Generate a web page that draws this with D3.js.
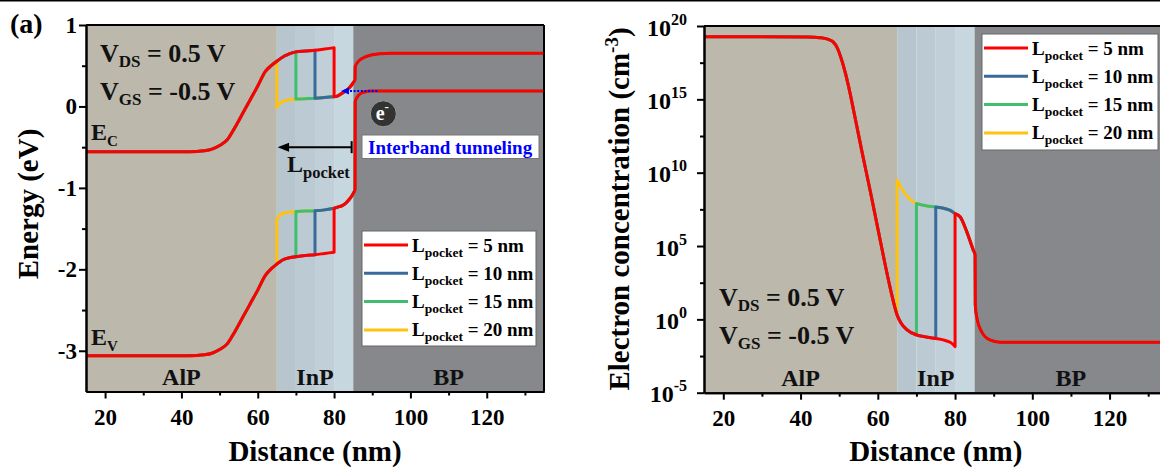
<!DOCTYPE html>
<html>
<head>
<meta charset="utf-8">
<script src="https://cdn.jsdelivr.net/npm/d3@7"></script>
<style>
  html, body { margin: 0; padding: 0; background: #fff; }
  svg { display: block; font-family: "Liberation Serif", "Times New Roman", serif; font-weight: bold; }
</style>
</head>
<body>
<svg id="chart" width="1160" height="469"></svg>
<script>
// ---------------- data ----------------
const distanceTicks = [20, 40, 60, 80, 100, 120];
const distanceMinorTicks = [30, 50, 70, 90, 110, 130];
const energyTicks = [1, 0, -1, -2, -3];
const energyMinorTicks = [0.5, -0.5, -1.5, -2.5];
const concentrationTicks = [1e-5, 1, 1e5, 1e10, 1e15, 1e20];
const concentrationMinorTicks = [3.16e-3, 316, 3.16e7, 3.16e12, 3.16e17];

const layers = [
  { name: "AlP", from: 15, to: 65 },
  { name: "InP", from: 65, to: 85 },
  { name: "BP",  from: 85, to: 135 }
];
const inpSlices = [65, 70, 75, 80, 85];

const pocketLengths = [5, 10, 15, 20];   // nm, legend order
const pocketEnd = 80;                    // pocket region ends at the last InP slice

// Conduction band edge (eV): source side without pocket, pocket band, drain side
const ecBase = [[15,-0.555],[30,-0.555],[40,-0.555],[44,-0.552],[46,-0.545],[48,-0.525],[50,-0.48],
  [52,-0.41],[54,-0.26],[56,-0.09],[58,0.08],[60,0.25],[62,0.43],[63.5,0.5],[65,0.555],[66,0.59],
  [67,0.62],[68,0.64],[70,0.67],[72.5,0.68],[75,0.69],[77.5,0.705],[80,0.72]];
const ecPocket = [[65,-0.01],[65.7,0.03],[66.5,0.06],[68,0.08],[70,0.09],[72.5,0.095],[75,0.10],[77.5,0.11],[80,0.12]];
const ecDrain = [[80,0.12],[81,0.13],[82,0.16],[83,0.19],[84,0.23],[85,0.29],[85.5,0.33],[85.55,0.49],
  [86.5,0.56],[88,0.605],[90,0.635],[92,0.648],[95,0.653],[135,0.653]];

// Valence band edge (eV)
const evBase = [[15,-3.06],[30,-3.06],[40,-3.06],[44,-3.057],[46,-3.05],[48,-3.03],[50,-2.985],
  [52,-2.915],[54,-2.765],[56,-2.595],[58,-2.425],[60,-2.255],[62,-2.075],[63.5,-1.995],[65,-1.935],
  [66,-1.9],[67,-1.875],[68,-1.86],[70,-1.845],[72.5,-1.83],[75,-1.82],[77.5,-1.805],[80,-1.79]];
const evPocket = [[65,-1.39],[65.7,-1.34],[66.5,-1.315],[68,-1.3],[70,-1.29],[72.5,-1.285],[75,-1.28],[77.5,-1.27],[80,-1.25]];
const evDrain = [[80,-1.25],[81,-1.235],[82,-1.22],[83,-1.19],[84,-1.14],[85,-1.07],[85.5,-1.02],
  [85.55,0.06],[86,0.11],[86.8,0.155],[88,0.178],[89.5,0.19],[135,0.19]];

// Electron concentration (cm^-3)
const nBase = [[15,1.86e19],[30,1.86e19],[42,1.8e19],[45,1.6e19],[47,1.26e19],[48.5,7.9e18],[49.5,3.2e18],
  [50.5,6.3e17],[51.5,7.9e16],[52.5,6.3e15],[54,7.9e13],[56,2e11],[58,6.3e8],[60,1.6e6],[62,4e3],
  [63.5,63],[65,2.0],[66,0.56],[67.5,0.2],[70,0.087],[72.5,0.063],[75,0.05],[77.5,0.036],[79,0.025],[80,0.014]];
const nPocket = [[65,3.2e9],[65.6,1.6e9],[66.5,6.3e8],[68,1.8e8],[70,8e7],[72.5,5.6e7],[75,4.5e7],
  [77.5,3.5e7],[79,2.5e7],[80,1.6e7]];
const nDrain = [[80,1.6e7],[81.3,1e7],[83,1e6],[84.7,5.4e4],[85.2,2.5e4],[85.25,9.5],[85.6,1.5],
  [86.9,0.14],[89,0.04],[91.6,0.028],[135,0.028]];

// ---------------- styles ----------------
const seriesColor = { 5: "#ff0000", 10: "#386b9c", 15: "#3fbf6b", 20: "#ffc20e" };
const layerFill = { AlP: "#bcb8ab", BP: "#87888c" };
const inpFills = ["#b7c6ce", "#bccbd3", "#c1d0d8", "#c7d7e0"];

const svg = d3.select("#chart");
svg.append("rect").attr("x", 0).attr("y", 0).attr("width", 1160).attr("height", 1.5).attr("fill", "#000");

// Splice a profile for a given pocket length: base up to the pocket start, pocket band, then drain
function pieces(base, pocket, drain, L) {
  const start = 85 - L;
  return [
    base.filter(d => d[0] <= start),
    pocket.filter(d => d[0] >= start),
    drain.filter(d => d[0] >= pocketEnd)
  ];
}

// Join the pieces into one continuous path (vertical steps between them)
function pathFor(line, parts) {
  const fx = line.x(), fy = line.y();
  return parts.map((p, i) => {
    if (p.length < 2) return `L${fx(p[0])},${fy(p[0])}`;
    const s = line(p);
    return i === 0 ? s : s.replace(/^M/, "L");
  }).join("");
}

function drawPanel(x, y, clipId) {
  const left = x.range()[0], right = x.range()[1];
  const top = y.range()[1], bottom = y.range()[0];
  const g = svg.append("g");
  g.append("clipPath").attr("id", clipId).append("rect")
    .attr("x", left).attr("y", top).attr("width", right - left).attr("height", bottom - top);

  const bg = g.append("g").attr("clip-path", `url(#${clipId})`);
  layers.filter(l => l.name !== "InP").forEach(l => {
    bg.append("rect").attr("x", x(l.from)).attr("y", top)
      .attr("width", x(l.to) - x(l.from)).attr("height", bottom - top).attr("fill", layerFill[l.name]);
  });
  d3.pairs(inpSlices).forEach(([a, b], i) => {
    bg.append("rect").attr("x", x(a)).attr("y", top)
      .attr("width", x(b) - x(a)).attr("height", bottom - top).attr("fill", inpFills[i]);
  });
  layers.forEach(l => {
    bg.append("text").attr("x", x((l.from + l.to) / 2)).attr("y", bottom - 6.5)
      .attr("text-anchor", "middle").attr("font-size", 24).attr("fill", "#111").text(l.name);
  });
  return { g, left, right, top, bottom };
}

function drawCurves(p, x, y, sets, clipId) {
  const line = d3.line().x(d => x(d[0])).y(d => y(d[1])).curve(d3.curveMonotoneX);
  const lg = p.g.append("g").attr("clip-path", `url(#${clipId})`);
  sets.forEach(([base, pocket, drain]) => {
    pocketLengths.slice().reverse().forEach(L => {
      lg.append("path")
        .attr("d", pathFor(line, pieces(base, pocket, drain, L)))
        .attr("fill", "none").attr("stroke", seriesColor[L])
        .attr("stroke-width", 3).attr("stroke-linejoin", "round").attr("stroke-linecap", "round");
    });
  });
}

function styleAxis(sel) {
  sel.attr("font-family", null).attr("font-size", null);
  sel.selectAll(".domain").attr("stroke", "#000").attr("stroke-width", 2);
  sel.selectAll(".tick line").attr("stroke", "#000").attr("stroke-width", 2);
  sel.selectAll(".tick text").attr("fill", "#000").attr("font-size", 23);
}

function drawFrameAndX(p, x) {
  // top and right border
  p.g.append("line").attr("x1", p.left).attr("x2", p.right).attr("y1", p.top).attr("y2", p.top)
    .attr("stroke", "#000").attr("stroke-width", 2);
  p.g.append("line").attr("x1", p.right).attr("x2", p.right).attr("y1", p.top).attr("y2", p.bottom)
    .attr("stroke", "#000").attr("stroke-width", 2);
  p.g.append("g").attr("transform", `translate(0,${p.bottom})`)
    .call(d3.axisBottom(x).tickValues(distanceMinorTicks).tickSize(4).tickSizeOuter(0).tickFormat(""))
    .call(styleAxis);
  const ax = p.g.append("g").attr("transform", `translate(0,${p.bottom})`)
    .call(d3.axisBottom(x).tickValues(distanceTicks).tickSize(7).tickSizeOuter(0).tickFormat(d3.format("d")))
    .call(styleAxis);
  ax.selectAll(".tick text").attr("y", 33).attr("dy", null);
  p.g.append("text").attr("x", (p.left + p.right) / 2).attr("y", 461)
    .attr("text-anchor", "middle").attr("font-size", 29).text("Distance (nm)");
}

function drawLegend(p, bx, by, w, h) {
  const lg = p.g.append("g");
  lg.append("rect").attr("x", bx).attr("y", by).attr("width", w).attr("height", h)
    .attr("fill", "#fff").attr("stroke", "#666").attr("stroke-width", 1);
  pocketLengths.forEach((L, i) => {
    const ry = by + 14 + i * 28.3;
    lg.append("line").attr("x1", bx + 2).attr("x2", bx + 46).attr("y1", ry).attr("y2", ry)
      .attr("stroke", seriesColor[L]).attr("stroke-width", 3);
    const t = lg.append("text").attr("x", bx + 50).attr("y", ry + 6.5).attr("font-size", 19);
    t.append("tspan").text("L");
    t.append("tspan").attr("font-size", 13.5).attr("dy", 5).text("pocket");
    t.append("tspan").attr("dy", -5).text(` = ${L} nm`);
  });
}

function biasText(g, x0, y0) {
  [["DS", "0.5"], ["GS", "-0.5"]].forEach(([sub, v], i) => {
    const t = g.append("text").attr("x", x0).attr("y", y0 + i * 37.5).attr("font-size", 26).attr("fill", "#111");
    t.append("tspan").text("V");
    t.append("tspan").attr("font-size", 17).attr("dy", 5).text(sub);
    t.append("tspan").attr("dy", -5).text(` = ${v} V`);
  });
}

// ---------------- (a) energy band diagram ----------------
const xL = d3.scaleLinear([15, 135], [86, 544]);
const yL = d3.scaleLinear([-3.5, 1], [391.5, 25]);
const pL = drawPanel(xL, yL, "clipL");
drawCurves(pL, xL, yL, [[ecBase, ecPocket, ecDrain], [evBase, evPocket, evDrain]], "clipL");

// annotations
const ann = pL.g.append("g");
biasText(ann, 100, 62);
[["C", 140], ["V", 345]].forEach(([sub, by]) => {
  const t = ann.append("text").attr("x", 91).attr("y", by).attr("font-size", 24).attr("fill", "#111");
  t.append("tspan").text("E");
  t.append("tspan").attr("font-size", 15).attr("dy", 6).text(sub);
});
// tunnelling path from the drain valence band into the pocket
const tunY = yL(0.19);
ann.append("line").attr("x1", xL(91.3)).attr("x2", xL(83.6)).attr("y1", tunY).attr("y2", tunY)
  .attr("stroke", "#0000ff").attr("stroke-width", 2).attr("stroke-dasharray", "2,1.6");
ann.append("path")
  .attr("d", `M${xL(81.8)},${tunY} L${xL(83.9)},${tunY - 3.5} L${xL(83.9)},${tunY + 3.5} Z`)
  .attr("fill", "#0000ff");
// electron symbol
const ex = xL(92.9), ey = yL(-0.09);
ann.append("circle").attr("cx", ex).attr("cy", ey).attr("r", 13).attr("fill", "#333").attr("stroke", "#9a9a9a").attr("stroke-width", 1);
const et = ann.append("text").attr("x", ex - 1).attr("y", ey + 6).attr("text-anchor", "middle")
  .attr("font-size", 20).attr("fill", "#fff");
et.append("tspan").text("e");
et.append("tspan").attr("font-size", 13).attr("dy", -9).text("-");
// tunnelling label
ann.append("rect").attr("x", 362).attr("y", 135).attr("width", 177).attr("height", 23.5)
  .attr("fill", "#fff").attr("stroke", "#777").attr("stroke-width", 1);
ann.append("text").attr("x", 368).attr("y", 153.5).attr("font-size", 19).attr("fill", "#0000ff")
  .text("Interband tunneling");
// pocket length marker
const lpY = yL(-0.5);
ann.append("line").attr("x1", xL(67.2)).attr("x2", xL(84.6)).attr("y1", lpY).attr("y2", lpY)
  .attr("stroke", "#000").attr("stroke-width", 2);
ann.append("path").attr("d", `M${xL(65.2)},${lpY} L${xL(68.2)},${lpY - 4.5} L${xL(68.2)},${lpY + 4.5} Z`).attr("fill", "#000");
ann.append("line").attr("x1", xL(84.6)).attr("x2", xL(84.6)).attr("y1", lpY - 6).attr("y2", lpY + 6)
  .attr("stroke", "#000").attr("stroke-width", 2);
const lt = ann.append("text").attr("x", 287).attr("y", 171.5).attr("font-size", 24).attr("fill", "#111");
lt.append("tspan").text("L");
lt.append("tspan").attr("font-size", 16.5).attr("dy", 6).text("pocket");

drawLegend(pL, 362, 231, 174, 115);

drawFrameAndX(pL, xL);
pL.g.append("g").attr("transform", `translate(${pL.left},0)`)
  .call(d3.axisLeft(yL).tickValues(energyMinorTicks).tickSize(4).tickSizeOuter(0).tickFormat(""))
  .call(styleAxis);
pL.g.append("g").attr("transform", `translate(${pL.left},0)`)
  .call(d3.axisLeft(yL).tickValues(energyTicks).tickSize(7).tickSizeOuter(0).tickPadding(2).tickFormat(d => String(d)))
  .call(styleAxis);
svg.append("text").attr("transform", "translate(38,204) rotate(-90)").attr("text-anchor", "middle")
  .attr("font-size", 29).text("Energy (eV)");
svg.append("text").attr("x", 10).attr("y", 33).attr("font-size", 28).text("(a)");

// ---------------- electron concentration ----------------
const xR = d3.scaleLinear([15, 135], [704, 1167.5]);
const yR = d3.scaleLog([1e-5, 1e20], [392.7, 26]);
const pR = drawPanel(xR, yR, "clipR");
drawCurves(pR, xR, yR, [[nBase, nPocket, nDrain]], "clipR");
biasText(pR.g.append("g"), 719, 306);
drawLegend(pR, 982, 34, 176, 116);
drawFrameAndX(pR, xR);
pR.g.append("g").attr("transform", `translate(${pR.left},0)`)
  .call(d3.axisLeft(yR).tickValues(concentrationMinorTicks).tickSize(4).tickSizeOuter(0).tickFormat(""))
  .call(styleAxis);
const ay = pR.g.append("g").attr("transform", `translate(${pR.left},0)`)
  .call(d3.axisLeft(yR).tickValues(concentrationTicks).tickSize(7).tickSizeOuter(0).tickFormat(""))
  .call(styleAxis);
ay.selectAll(".tick").each(function (d) {
  const t = d3.select(this).append("text").attr("x", -17).attr("y", 9)
    .attr("text-anchor", "end").attr("fill", "#000").attr("font-size", 24);
  t.append("tspan").text("10");
  t.append("tspan").attr("font-size", 16).attr("dy", -11).text(String(Math.round(Math.log10(d))));
});
const yt = svg.append("text").attr("transform", "translate(629,209) rotate(-90)").attr("text-anchor", "middle")
  .attr("font-size", 29);
yt.append("tspan").text("Electron concentration (cm");
yt.append("tspan").attr("font-size", 19).attr("dy", -11).text("-3");
yt.append("tspan").attr("dy", 11).text(")");
</script>
</body>
</html>
